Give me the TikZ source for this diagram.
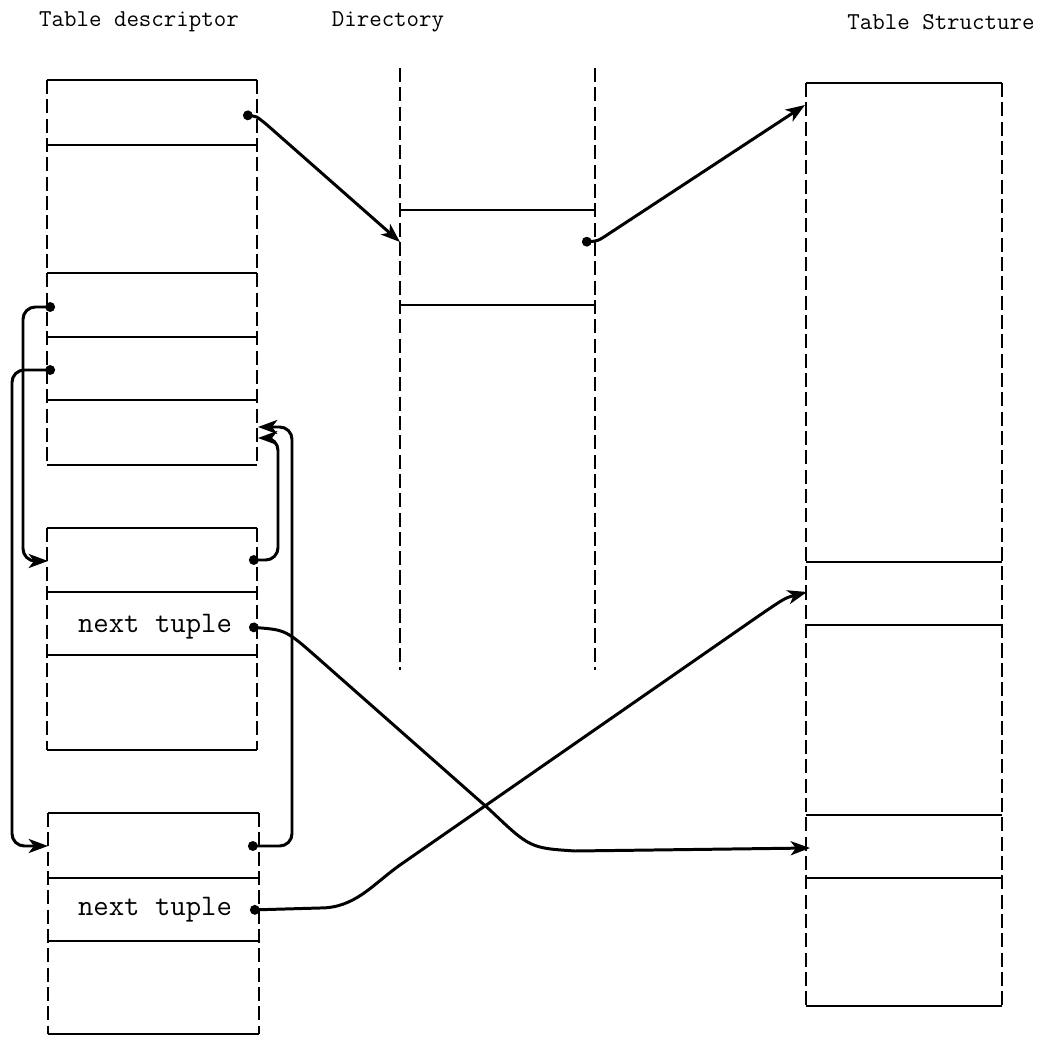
\documentclass[tikz,border=0pt]{standalone}
\usetikzlibrary{arrows.meta,positioning}

\tikzset{
  rule/.style={line width=0.6pt},
  side/.style={line width=0.6pt, dash pattern=on 8pt off 3pt},
  ptr/.style={line width=1.7pt, {Circle[length=5.5pt]}-{Stealth[length=11pt,width=8pt,inset=3pt]}},
  loopptr/.style={ptr, rounded corners=7pt},
  title/.style={font=\fontsize{13.8}{16}\selectfont\ttfamily},
  field/.style={font=\fontsize{17}{20}\selectfont\ttfamily},
}

\begin{document}
\begin{tikzpicture}[x=0.02cm,y=-0.02cm]
  \useasboundingbox (0,0) rectangle (1042,1037);

  % titles
  \node[title] (tdtitle) at (139,22) {Table descriptor};
  \node[title] (dirtitle) at (388,22) {Directory};
  \node[title] (tstitle) at (941,22) {Table Structure};

  % table descriptor
  \draw[rule] (47,80) -- (257,80) (47,465) -- (257,465);
  \draw[side] (47,80) -- (47,465) (257,80) -- (257,465);
  \foreach \y in {145,273,337,400}
    \draw[rule] (47,\y) -- (257,\y);

  % first tuple
  \draw[rule] (47,528) -- (257,528) (47,750) -- (257,750);
  \draw[side] (47,528) -- (47,750) (257,528) -- (257,750);
  \foreach \y in {592,655}
    \draw[rule] (47,\y) -- (257,\y);
  \node[field] (nt2) at (155,627) {next tuple};

  % second tuple
  \draw[rule] (48,813) -- (259,813) (48,1034) -- (259,1034);
  \draw[side] (48,813) -- (48,1034) (259,813) -- (259,1034);
  \foreach \y in {878,941}
    \draw[rule] (48,\y) -- (259,\y);
  \node[field] (nt3) at (155,910) {next tuple};

  % directory
  \draw[side] (400,68) -- (400,670) (595,68) -- (595,670);
  \foreach \y in {210,305}
    \draw[rule] (400,\y) -- (595,\y);

  % table structure
  \draw[rule] (806,83) -- (1002,83) (806,1006) -- (1002,1006);
  \draw[side] (806,83) -- (806,1006) (1002,83) -- (1002,1006);
  \foreach \y in {562,625,815,878}
    \draw[rule] (806,\y) -- (1002,\y);

  % pointer ends
  \coordinate (tdptr) at (243,115);
  \coordinate (lnk1) at (55,307);
  \coordinate (lnk2) at (55,370);
  \coordinate (tdin1) at (258,427);
  \coordinate (tdin2) at (258,438);
  \coordinate (bx2in) at (48,561);
  \coordinate (bx2ptr) at (249,560);
  \coordinate (nt2ptr) at (249,627);
  \coordinate (bx3in) at (48,846);
  \coordinate (bx3ptr) at (248,846);
  \coordinate (nt3ptr) at (250,910);
  \coordinate (dirin) at (400,242);
  \coordinate (dirptr) at (582,242);
  \coordinate (tsin1) at (805,105);
  \coordinate (tsin2) at (807,592);
  \coordinate (tsin3) at (810,848);

  % pointers
  \draw[ptr] (tdptr) .. controls (256,116) .. (266,124) -- (dirin);
  \draw[ptr] (dirptr) .. controls (598,241) .. (610,233) -- (tsin1);
  \draw[loopptr] (lnk1) -- ++(-32,0) |- (bx2in);
  \draw[loopptr] (lnk2) -- ++(-43,0) |- (bx3in);
  \draw[loopptr] (bx2ptr) -- ++(29,0) |- (tdin2);
  \draw[loopptr] (bx3ptr) -- ++(44,0) |- (tdin1);
  \draw[ptr] (nt2ptr) .. controls (286,630) .. (320,660) -- (490,810)
    .. controls (530,848) .. (575,851) -- (tsin3);
  \draw[ptr] (nt3ptr) -- (320,908) .. controls (355,908) and (372,885) .. (400,865)
    -- (760,615) .. controls (785,598) .. (tsin2);
\end{tikzpicture}
\end{document}
